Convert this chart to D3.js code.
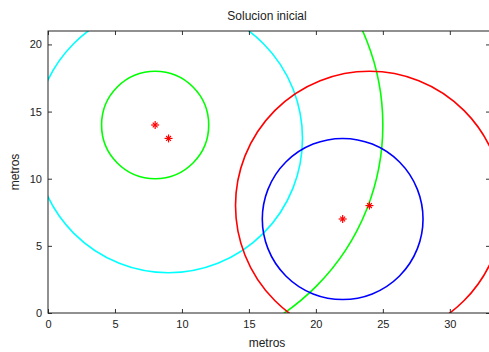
<!DOCTYPE html>
<html>
<head>
<meta charset="utf-8">
<script src="https://cdn.jsdelivr.net/npm/d3@7"></script>
<style>
  html, body { margin: 0; padding: 0; background: #fff; }
  svg { display: block; font-family: "Liberation Sans", Arial, sans-serif; }
</style>
</head>
<body>
<svg id="chart" width="489" height="352"></svg>
<script>
// Coverage circles: centre (x, y), radius and colour
const circleX = [8, 8, 9, 22, 24];
const circleY = [14, 14, 13, 7, 8];
const circleR = [4, 17, 10, 6, 10];
const circleColor = ["#00ff00", "#00ff00", "#00ffff", "#0000ff", "#ff0000"];

// Station positions (red star markers)
const pointX = [8, 9, 22, 24];
const pointY = [14, 13, 7, 8];

const xTicks = [0, 5, 10, 15, 20, 25, 30];
const yTicks = [0, 5, 10, 15, 20];
const xDomain = [0, 33];
const yDomain = [0, 21];

const svg = d3.select("#chart");
const plotLeft = 48, plotRight = 490, plotTop = 31, plotBottom = 313;

const x = d3.scaleLinear().domain(xDomain).range([plotLeft, plotRight]);
const y = d3.scaleLinear().domain(yDomain).range([plotBottom, plotTop]);

svg.append("defs").append("clipPath").attr("id", "plotClip")
  .append("rect").attr("x", plotLeft).attr("y", plotTop)
  .attr("width", plotRight - plotLeft).attr("height", plotBottom - plotTop);

const plot = svg.append("g").attr("clip-path", "url(#plotClip)");

// Circles
plot.selectAll("ellipse.ring")
  .data(circleX.map((cx, i) => ({ cx, cy: circleY[i], r: circleR[i], c: circleColor[i] })))
  .join("ellipse")
  .attr("class", "ring")
  .attr("cx", d => x(d.cx))
  .attr("cy", d => y(d.cy))
  .attr("rx", d => x(d.r) - x(0))
  .attr("ry", d => y(0) - y(d.r))
  .attr("fill", "none")
  .attr("stroke", d => d.c)
  .attr("stroke-width", 1.6);

// Star markers
const s = 4;
const g = plot.selectAll("g.star")
  .data(pointX.map((px, i) => ({ px, py: pointY[i] })))
  .join("g")
  .attr("class", "star")
  .attr("transform", d => `translate(${x(d.px)},${y(d.py)})`)
  .attr("stroke", "#ff0000")
  .attr("stroke-width", 1.2);
g.append("line").attr("x1", -s).attr("x2", s).attr("y1", 0).attr("y2", 0);
g.append("line").attr("x1", 0).attr("x2", 0).attr("y1", -s).attr("y2", s);
g.append("line").attr("x1", -s * 0.6).attr("x2", s * 0.6).attr("y1", -s * 0.6).attr("y2", s * 0.6);
g.append("line").attr("x1", -s * 0.6).attr("x2", s * 0.6).attr("y1", s * 0.6).attr("y2", -s * 0.6);

// Axes (inward ticks, box on)
const tickLen = 4;
function styleAxis(sel) {
  sel.select(".domain").remove();
  sel.selectAll(".tick line").attr("stroke", "#333");
  sel.selectAll(".tick text").attr("fill", "#222").style("font-size", "11px")
    .style("font-family", "\"Liberation Sans\", Arial, sans-serif");
}

svg.append("g").attr("transform", `translate(0,${plotBottom})`)
  .call(d3.axisBottom(x).tickValues(xTicks).tickSize(-tickLen).tickPadding(7).tickFormat(d3.format("d")))
  .call(styleAxis);
svg.append("g").attr("transform", `translate(0,${plotTop})`)
  .call(d3.axisTop(x).tickValues(xTicks).tickSize(-tickLen).tickFormat(""))
  .call(styleAxis);
svg.append("g").attr("transform", `translate(${plotLeft},0)`)
  .call(d3.axisLeft(y).tickValues(yTicks).tickSize(-tickLen).tickPadding(6).tickFormat(d3.format("d")))
  .call(styleAxis);
svg.append("g").attr("transform", `translate(${plotRight},0)`)
  .call(d3.axisRight(y).tickValues(yTicks).tickSize(-tickLen).tickFormat(""))
  .call(styleAxis);

svg.append("rect")
  .attr("x", plotLeft).attr("y", plotTop)
  .attr("width", plotRight - plotLeft).attr("height", plotBottom - plotTop)
  .attr("fill", "none").attr("stroke", "#222").attr("stroke-width", 1);

// Titles
svg.append("text").attr("x", (plotLeft + plotRight) / 2 - 2).attr("y", 20)
  .attr("text-anchor", "middle").style("font-size", "12px").attr("fill", "#222")
  .text("Solucion inicial");
svg.append("text").attr("x", (plotLeft + plotRight) / 2 - 2).attr("y", 347)
  .attr("text-anchor", "middle").style("font-size", "12px").attr("fill", "#222")
  .text("metros");
svg.append("text")
  .attr("transform", `translate(19,${(plotTop + plotBottom) / 2}) rotate(-90)`)
  .attr("text-anchor", "middle").style("font-size", "12px").attr("fill", "#222")
  .text("metros");
</script>
</body>
</html>
